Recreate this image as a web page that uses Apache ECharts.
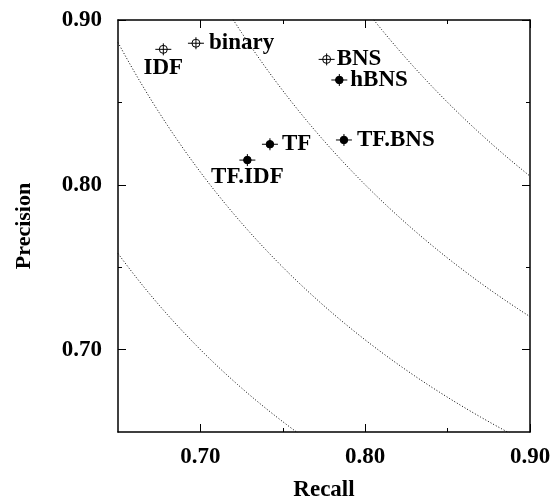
<!DOCTYPE html>
<html>
<head>
<meta charset="utf-8">
<script src="https://cdn.jsdelivr.net/npm/echarts@6/dist/echarts.min.js"></script>
<style>
  html, body { margin: 0; padding: 0; background: #fff; }
  #chart { width: 552px; height: 502px; }
</style>
</head>
<body>
<div id="chart"></div>
<script>
// methods plotted as (recall, precision)
const methods = ['IDF', 'binary', 'BNS', 'hBNS', 'TF.BNS', 'TF', 'TF.IDF']
const recall = [0.6775, 0.6973, 0.7766, 0.7843, 0.7871, 0.7422, 0.7285]
const precision = [0.8822, 0.8859, 0.8761, 0.8636, 0.8272, 0.8246, 0.8150]
const hollow = [true, true, true, false, false, false, false]

// F-measure isolines
const fLevels = [0.70, 0.75, 0.80, 0.85]

const majorTicks = [0.70, 0.80, 0.90]
const minorTicks = [0.75, 0.85]

// where each label sits relative to its marker
const labelPlace = {
  'IDF': { align: 'center', dx: 0, dy: 19 },
  'binary': { align: 'left', dx: 13, dy: 0 },
  'BNS': { align: 'left', dx: 10, dy: 0 },
  'hBNS': { align: 'left', dx: 11, dy: 0 },
  'TF.BNS': { align: 'left', dx: 13, dy: 0 },
  'TF': { align: 'left', dx: 12, dy: 0 },
  'TF.IDF': { align: 'center', dx: 0, dy: 17 }
}

const FONT = '"Liberation Serif", "DejaVu Serif", serif'
const LO = 0.65, HI = 0.90

function axis(position, ticks, len, main) {
  return {
    type: 'value', position, min: LO, max: HI, interval: 0.05,
    axisLine: { show: main, onZero: false, lineStyle: { color: '#000', width: 1.5 } },
    axisTick: { show: true, inside: true, length: len, customValues: ticks, lineStyle: { color: '#000', width: 1 } },
    axisLabel: { show: false },
    splitLine: { show: false }
  }
}

const xAxes = [
  axis('bottom', majorTicks, 8, true),
  axis('bottom', minorTicks, 4, false),
  axis('top', majorTicks, 8, true),
  axis('top', minorTicks, 4, false)
]
const yAxes = [
  axis('left', majorTicks, 8, true),
  axis('left', minorTicks, 4, false),
  axis('right', majorTicks, 8, true),
  axis('right', minorTicks, 4, false)
]
const tickLabel = {
  show: true, customValues: majorTicks, formatter: v => v.toFixed(2),
  color: '#000', fontFamily: FONT, fontWeight: 'bold', fontSize: 23
}
xAxes[0].axisLabel = Object.assign({ margin: 14 }, tickLabel)
xAxes[0].name = 'Recall'
xAxes[0].nameLocation = 'middle'
xAxes[0].nameGap = 47
xAxes[0].nameTextStyle = { color: '#000', fontFamily: FONT, fontWeight: 'bold', fontSize: 23 }
yAxes[0].axisLabel = Object.assign({ margin: 16 }, tickLabel)
yAxes[0].name = 'Precision'
yAxes[0].nameLocation = 'middle'
yAxes[0].nameGap = 83
yAxes[0].nameTextStyle = { color: '#000', fontFamily: FONT, fontWeight: 'bold', fontSize: 22 }

// isoline P = F*R / (2R - F)
const curveSeries = fLevels.map(f => {
  const pts = []
  for (let r = LO; r <= HI + 1e-9; r += 0.0025) {
    const p = f * r / (2 * r - f)
    if (p > 0 && p < 1.2) pts.push([r, p])
  }
  return {
    type: 'line', data: pts, showSymbol: false, silent: true, clip: true,
    lineStyle: { color: '#000', width: 1, type: [1, 2] }
  }
})

const points = methods.map((m, i) => [recall[i], precision[i]])

const pointSeries = {
  type: 'custom',
  data: points,
  encode: { x: 0, y: 1 },
  renderItem(params, api) {
    const c = api.coord([api.value(0), api.value(1)])
    const name = methods[params.dataIndex]
    const open = hollow[params.dataIndex]
    const lp = labelPlace[name]
    const ls = { stroke: '#000', lineWidth: 1 }
    return {
      type: 'group',
      children: [
        { type: 'line', shape: { x1: c[0] - 8, y1: c[1], x2: c[0] + 8, y2: c[1] }, style: ls },
        { type: 'line', shape: { x1: c[0], y1: c[1] - 6, x2: c[0], y2: c[1] + 6 }, style: ls },
        { type: 'circle', shape: { cx: c[0], cy: c[1], r: open ? 4 : 3.8 },
          style: { fill: open ? 'rgba(0,0,0,0)' : '#000', stroke: '#000', lineWidth: 1 } },
        { type: 'text', x: c[0] + lp.dx, y: c[1] + lp.dy,
          style: { text: name, align: lp.align, verticalAlign: 'middle', fill: '#000',
            font: 'bold 23px ' + FONT } }
      ]
    }
  }
}

const chart = echarts.init(document.getElementById('chart'), null, { renderer: 'canvas' })
chart.setOption({
  animation: false,
  backgroundColor: '#fff',
  grid: { left: 118, right: 22, top: 20, bottom: 70, containLabel: false, outerBoundsMode: 'none' },
  xAxis: xAxes,
  yAxis: yAxes,
  series: curveSeries.concat([pointSeries])
})
</script>
</body>
</html>
